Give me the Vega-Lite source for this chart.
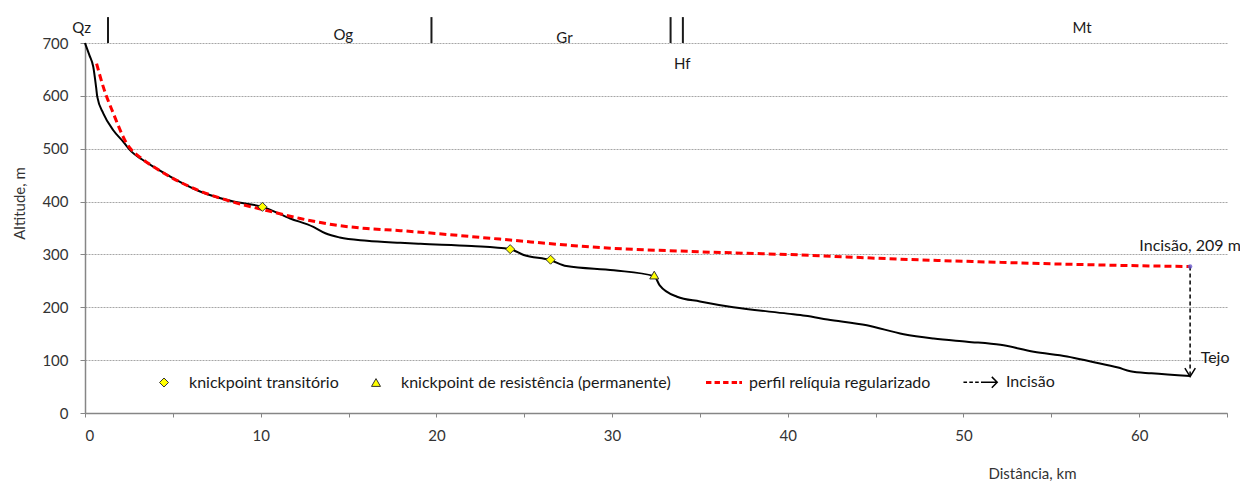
{
  "$schema": "https://vega.github.io/schema/vega-lite/v6.json",
  "width": 1142,
  "height": 370,
  "autosize": {"type": "none"},
  "padding": {"left": 85, "top": 43, "right": 13, "bottom": 69},
  "background": "white",
  "config": {
    "font": "Lato",
    "view": {"stroke": null},
    "axis": {
      "labelFont": "Lato", "labelFontSize": 15, "labelColor": "#333333",
      "titleFont": "Lato", "titleFontSize": 15, "titleFontWeight": "normal", "titleColor": "#333333",
      "domainColor": "#868686", "tickColor": "#868686", "domainWidth": 1.5
    },
    "legend": {"labelFont": "Lato", "labelFontSize": 16, "labelColor": "#1a1a1a"}
  },
  "datasets": {
    "perfil": [
      {"km": 0, "alt": 700}, {"km": 0.25, "alt": 677}, {"km": 0.47, "alt": 655}, {"km": 0.63, "alt": 617}, {"km": 0.7, "alt": 598},
      {"km": 1.04, "alt": 567}, {"km": 1.61, "alt": 535}, {"km": 2.18, "alt": 513}, {"km": 2.66, "alt": 494},
      {"km": 3.23, "alt": 480}, {"km": 3.89, "alt": 466}, {"km": 5.03, "alt": 444}, {"km": 6.55, "alt": 419},
      {"km": 8.45, "alt": 400}, {"km": 10.1, "alt": 390}, {"km": 11.68, "alt": 368}, {"km": 13.0, "alt": 352},
      {"km": 13.68, "alt": 340}, {"km": 14.5, "alt": 332}, {"km": 16.05, "alt": 326}, {"km": 17.95, "alt": 322},
      {"km": 19.1, "alt": 320}, {"km": 22.0, "alt": 316}, {"km": 24.2, "alt": 310}, {"km": 24.97, "alt": 299},
      {"km": 26.5, "alt": 289}, {"km": 27.4, "alt": 278}, {"km": 30.1, "alt": 270}, {"km": 32.4, "alt": 259},
      {"km": 32.7, "alt": 242}, {"km": 33.7, "alt": 220}, {"km": 35.0, "alt": 211}, {"km": 36.9, "alt": 200},
      {"km": 39.98, "alt": 188}, {"km": 41.0, "alt": 184}, {"km": 42.26, "alt": 177}, {"km": 44.5, "alt": 166},
      {"km": 46.6, "alt": 149}, {"km": 48.3, "alt": 141}, {"km": 50.2, "alt": 135}, {"km": 52.1, "alt": 129},
      {"km": 54.0, "alt": 116}, {"km": 55.9, "alt": 107}, {"km": 57.3, "alt": 97}, {"km": 58.8, "alt": 86},
      {"km": 59.5, "alt": 79}, {"km": 60.7, "alt": 75}, {"km": 62.9, "alt": 70}
    ],
    "reliquia": [
      {"km": 0.66, "alt": 661}, {"km": 1.04, "alt": 617}, {"km": 1.61, "alt": 567}, {"km": 2.37, "alt": 510},
      {"km": 3.2, "alt": 482}, {"km": 3.9, "alt": 466}, {"km": 5.0, "alt": 444}, {"km": 6.55, "alt": 420},
      {"km": 8.45, "alt": 399}, {"km": 10.35, "alt": 383}, {"km": 12.25, "alt": 368}, {"km": 14.15, "alt": 356},
      {"km": 16.05, "alt": 349}, {"km": 17.95, "alt": 345}, {"km": 19.1, "alt": 342}, {"km": 23.6, "alt": 329},
      {"km": 29.3, "alt": 313}, {"km": 35.0, "alt": 305}, {"km": 40.7, "alt": 299}, {"km": 46.4, "alt": 291},
      {"km": 52.1, "alt": 285}, {"km": 57.8, "alt": 280}, {"km": 62.9, "alt": 277}
    ],
    "knick": [
      {"km": 10.1, "alt": 390, "tipo": "knickpoint transitório"},
      {"km": 24.2, "alt": 310, "tipo": "knickpoint transitório"},
      {"km": 26.5, "alt": 290, "tipo": "knickpoint transitório"},
      {"km": 32.4, "alt": 261, "tipo": "knickpoint de resistência (permanente)"}
    ],
    "limites": [{"km": 1.31}, {"km": 19.72}, {"km": 33.33}, {"km": 34.03}],
    "unidades": [
      {"km": -0.19, "alt": 728, "u": "Qz"}, {"km": 14.7, "alt": 715, "u": "Og"},
      {"km": 27.29, "alt": 709, "u": "Gr"}, {"km": 34.0, "alt": 660, "u": "Hf"},
      {"km": 56.75, "alt": 729, "u": "Mt"}
    ],
    "incisao": [{"km": 62.9, "topo": 277, "base": 71, "tip": 69}],
    "nota_incisao": [{"km": 62.9, "alt": 316, "t": "Incisão, 209 m"}],
    "nota_tejo": [{"km": 63.5, "alt": 105, "t": "Tejo"}]
  },
  "layer": [
    {
      "data": {"name": "limites"},
      "mark": {"type": "rule", "color": "#1a1a1a", "strokeWidth": 2},
      "encoding": {
        "x": {"field": "km", "type": "quantitative", "scale": {"domain": [0, 65], "nice": false},
          "axis": {"title": "Distância, km", "values": [0, 5, 10, 15, 20, 25, 30, 35, 40, 45, 50, 55, 60, 65],
            "labelExpr": "datum.value % 10 === 0 ? datum.label : ''", "grid": false, "tickSize": 4, "labelPadding": 11,
            "titleX": 947, "titleY": 60, "titleBaseline": "middle", "titleAlign": "center"}},
        "y": {"datum": 700, "type": "quantitative", "scale": {"domain": [0, 700], "nice": false},
          "axis": {"title": "Altitude, m", "values": [0, 100, 200, 300, 400, 500, 600, 700], "grid": true,
            "gridColor": "#a6a6a6", "gridDash": [2, 1], "gridWidth": 1, "tickSize": 5, "labelPadding": 12,
            "titleX": -66, "titleY": 160, "titleAngle": -90, "titleAlign": "center", "titleBaseline": "middle"}},
        "y2": {"datum": 749}
      }
    },
    {
      "data": {"name": "unidades"},
      "mark": {"type": "text", "fontSize": 15, "color": "#1a1a1a", "baseline": "middle", "align": "center"},
      "encoding": {
        "x": {"field": "km", "type": "quantitative"},
        "y": {"field": "alt", "type": "quantitative"},
        "text": {"field": "u"}
      }
    },
    {
      "data": {"name": "perfil"},
      "mark": {"type": "line", "color": "black", "strokeWidth": 2, "interpolate": "monotone"},
      "encoding": {
        "x": {"field": "km", "type": "quantitative"},
        "y": {"field": "alt", "type": "quantitative"}
      }
    },
    {
      "data": {"name": "reliquia"},
      "mark": {"type": "line", "color": "#ff0000", "strokeWidth": 3, "strokeDash": [7, 4], "interpolate": "monotone"},
      "encoding": {
        "x": {"field": "km", "type": "quantitative"},
        "y": {"field": "alt", "type": "quantitative"}
      }
    },
    {
      "data": {"name": "incisao"},
      "mark": {"type": "rule", "color": "black", "strokeWidth": 1.5, "strokeDash": [4, 3]},
      "encoding": {
        "x": {"field": "km", "type": "quantitative"},
        "y": {"field": "topo", "type": "quantitative"},
        "y2": {"field": "base"}
      }
    },
    {
      "data": {"name": "incisao"},
      "mark": {"type": "point", "shape": "M-1,-1.6L0,0L1,-1.6", "size": 110, "filled": false, "stroke": "black", "strokeWidth": 1.5, "opacity": 1},
      "encoding": {
        "x": {"field": "km", "type": "quantitative"},
        "y": {"field": "tip", "type": "quantitative"}
      }
    },
    {
      "data": {"name": "incisao"},
      "mark": {"type": "point", "shape": "circle", "size": 20, "filled": true, "color": "#6a5acd", "opacity": 0.8},
      "encoding": {
        "x": {"field": "km", "type": "quantitative"},
        "y": {"field": "topo", "type": "quantitative"}
      }
    },
    {
      "data": {"name": "knick"},
      "mark": {"type": "point", "filled": true, "size": 81, "opacity": 1},
      "encoding": {
        "x": {"field": "km", "type": "quantitative"},
        "y": {"field": "alt", "type": "quantitative"},
        "shape": {"field": "tipo", "type": "nominal",
          "scale": {"domain": ["knickpoint transitório", "knickpoint de resistência (permanente)", "perfil relíquia regularizado", "Incisão"],
            "range": ["diamond", "triangle-up", "M-4,0H-2.8M-2.1,0H-0.9M-0.2,0H1M1.7,0H2.9M3.4,0H4", "M-3.9,0H-3.1M-2.6,0H-1.8M-1.3,0H-0.5M0,0H3.6M2.4,-1.2L3.6,0L2.4,1.2"]},
          "legend": {"title": null, "orient": "none", "direction": "horizontal", "legendX": 71, "legendY": 331,
            "symbolSize": 81, "labelOffset": 17, "columnPadding": 29, "padding": 0, "labelLimit": 400}},
        "fill": {"field": "tipo", "type": "nominal",
          "scale": {"domain": ["knickpoint transitório", "knickpoint de resistência (permanente)", "perfil relíquia regularizado", "Incisão"],
            "range": ["#ffff00", "#ffff00", "transparent", "transparent"]},
          "legend": {"title": null}},
        "stroke": {"field": "tipo", "type": "nominal",
          "scale": {"domain": ["knickpoint transitório", "knickpoint de resistência (permanente)", "perfil relíquia regularizado", "Incisão"],
            "range": ["#333333", "#333333", "#ff0000", "#000000"]},
          "legend": {"title": null}},
        "strokeWidth": {"field": "tipo", "type": "nominal",
          "scale": {"type": "ordinal", "domain": ["knickpoint transitório", "knickpoint de resistência (permanente)", "perfil relíquia regularizado", "Incisão"],
            "range": [1, 1, 3, 1.5]},
          "legend": {"title": null}}
      }
    },
    {
      "data": {"name": "nota_incisao"},
      "mark": {"type": "text", "fontSize": 16, "color": "#1a1a1a", "baseline": "middle", "align": "center"},
      "encoding": {
        "x": {"field": "km", "type": "quantitative"},
        "y": {"field": "alt", "type": "quantitative"},
        "text": {"field": "t"}
      }
    },
    {
      "data": {"name": "nota_tejo"},
      "mark": {"type": "text", "fontSize": 16, "color": "#1a1a1a", "baseline": "middle", "align": "left"},
      "encoding": {
        "x": {"field": "km", "type": "quantitative"},
        "y": {"field": "alt", "type": "quantitative"},
        "text": {"field": "t"}
      }
    }
  ]
}
